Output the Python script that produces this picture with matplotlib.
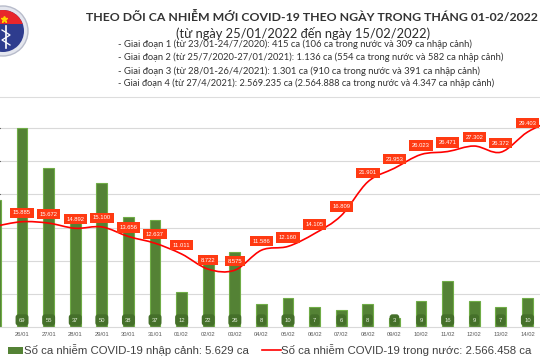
import numpy as np
import matplotlib
matplotlib.use('Agg')
import matplotlib.pyplot as plt
from matplotlib.path import Path
from matplotlib.patches import PathPatch, Circle, Rectangle

# data
dates = ['25/01', '26/01', '27/01', '28/01', '29/01', '30/01', '31/01', '01/02', '02/02', '03/02',
         '04/02', '05/02', '06/02', '07/02', '08/02', '09/02', '10/02', '11/02', '12/02', '13/02',
         '14/02', '15/02']
imported = [44, 69, 55, 37, 50, 38, 37, 12, 22, 26, 8, 10, 7, 6, 8, 3, 9, 16, 9, 7, 10, 11]
domestic = [15199, 15885, 15672, 14892, 15100, 13656, 12637, 11011, 8722, 8575, 11586, 12160,
            14105, 16809, 21901, 23953, 26023, 26471, 27302, 26372, 29403, 31300]

title = 'THEO DÕI CA NHIỄM MỚI COVID-19 THEO NGÀY TRONG THÁNG 01-02/2022'
subtitle = '(từ ngày 25/01/2022 đến ngày 15/02/2022)'
notes = ['- Giai đoạn 1 (từ 23/01-24/7/2020): 415 ca (106 ca trong nước và 309 ca nhập cảnh)',
         '- Giai đoạn 2 (từ 25/7/2020-27/01/2021): 1.136 ca (554 ca trong nước và 582 ca nhập cảnh)',
         '- Giai đoạn 3 (từ 28/01-26/4/2021): 1.301 ca (910 ca trong nước và 391 ca nhập cảnh)',
         '- Giai đoạn 4 (từ 27/4/2021): 2.569.235 ca (2.564.888 ca trong nước và 4.347 ca nhập cảnh)']
leg_bar = 'Số ca nhiễm COVID-19 nhập cảnh: 5.629 ca'
leg_line = 'Số ca nhiễm COVID-19 trong nước: 2.566.458 ca'

W, H = 540, 360
fig = plt.figure(figsize=(5.4, 3.6), dpi=100)
fig.patch.set_facecolor('white')

x = np.arange(len(dates))
XLIM = (0.172, 0.172 + W / 26.6)

# chart area: bottom at y=327px, top at y=95px
ax = fig.add_axes([0, 1 - 327 / H, 1, (327 - 95) / H])
ax.set_ylim(0, 80.5)
ax.set_yticks(np.arange(1, 7) * 80.5 / 7)
ax.yaxis.grid(True, color='#D9D9D9', lw=0.8)
ax.set_axisbelow(True)
ax.tick_params(axis='y', left=False, labelleft=False)
for s in ['left', 'right', 'top']:
    ax.spines[s].set_visible(False)
ax.spines['bottom'].set_color('#D9D9D9')

ax.bar(x, imported, width=0.41, color='#548235', edgecolor='#70AD47', lw=0.8, zorder=2)
for i, v in enumerate(imported):
    ax.annotate(str(v), (x[i], 0), xytext=(0, 7), textcoords='offset pixels',
                ha='center', va='center', fontsize=4.2, color='#E8F0E0', family='Liberation Sans',
                bbox=dict(boxstyle='round,pad=0.55,rounding_size=0.5', fc='#45702A', ec='none'),
                zorder=3)

ax2 = ax.twinx()
ax2.set_ylim(0, 35000)
ax2.axis('off')

# smooth line (Catmull-Rom through the points, like Excel's smoothed line)
pts = np.column_stack([x, domestic]).astype(float)
ext = np.vstack([pts[0], pts, pts[-1]])
verts = [tuple(pts[0])]
codes = [Path.MOVETO]
for k in range(len(pts) - 1):
    p0, p1, p2, p3 = ext[k], ext[k + 1], ext[k + 2], ext[k + 3]
    c1 = p1 + (p2 - p0) / 6
    c2 = p2 - (p3 - p1) / 6
    verts += [tuple(c1), tuple(c2), tuple(p2)]
    codes += [Path.CURVE4] * 3
ax2.add_patch(PathPatch(Path(verts, codes), fill=False, ec='#FF0000', lw=1.2, zorder=4))

for i, v in enumerate(domestic):
    ax2.annotate(f'{v:,}'.replace(',', '.'), (x[i], v), xytext=(0, 9), textcoords='offset pixels',
                 ha='center', va='center', fontsize=4.2, color='white', family='Liberation Sans',
                 bbox=dict(boxstyle='square,pad=0.45', fc='#FF3A12', ec='none'), zorder=5)

ax.set_xticks(x)
ax.set_xticklabels(dates, fontsize=4.2, color='#595959', family='Liberation Sans')
ax.tick_params(axis='x', length=0, pad=3.5)
ax.set_xlim(XLIM)
ax2.set_xlim(XLIM)
ax2.set_ylim(0, 35000)

# overlay in pixel coordinates for header, logo and legend
cv = fig.add_axes([0, 0, 1, 1], zorder=10)
cv.set_xlim(0, W)
cv.set_ylim(H, 0)
cv.axis('off')
cv.patch.set_alpha(0)

cv.plot([0, W], [97, 97], color='#DDDDDD', lw=0.8)

# logo
cv.add_patch(Circle((3, 31), 25, fc='#E4E6EE', ec='#B8BCCB', lw=1))
cv.add_patch(Circle((3, 31), 21, fc='#2E3C8E', ec='none'))
red = Rectangle((-25, 5), 50, 19, fc='#E8262B', ec='none')
cv.add_patch(red)
red.set_clip_path(Circle((3, 31), 21, transform=cv.transData))
cv.plot([4], [19], marker='*', ms=5, color='#FFD200')
cv.plot([6, 6], [26, 48], color='white', lw=1.2)
cv.plot([2, 10, 2, 10], [30, 35, 40, 45], color='white', lw=0.9)
cv.set_xlim(0, W)
cv.set_ylim(H, 0)

renderer = fig.canvas.get_renderer()


def fit_text(xx, yy, s, width, **kw):
    t = cv.text(xx, yy, s, **kw)
    bb = t.get_window_extent(renderer)
    t.set_fontsize(t.get_fontsize() * width / bb.width)
    return t


fit_text(86, 17, title, 451, ha='left', va='center', fontsize=8, family='Lato',
         weight='bold', color='#333333')
fit_text(303, 33, subtitle, 255, ha='center', va='center', fontsize=9, family='Lato',
         color='#2B2B2B')
ends = [478, 507, 482, 500]
for j, s in enumerate(notes):
    fit_text(118, [44, 57, 71, 83][j], s, ends[j] - 118, ha='left', va='center', fontsize=6,
             family='Lato', color='#333333')

# legend
cv.add_patch(Rectangle((8, 347), 15, 7, fc='#548235', ec='none'))
fit_text(24, 350, leg_bar, 226, ha='left', va='center', fontsize=8, family='Liberation Sans',
         color='#404040')
cv.plot([262, 281], [350, 350], color='#FF0000', lw=1.2)
fit_text(281, 350, leg_line, 252, ha='left', va='center', fontsize=8, family='Liberation Sans',
         color='#404040')
cv.set_xlim(0, W)
cv.set_ylim(H, 0)

fig.savefig('out.png', dpi=100, facecolor='white')
